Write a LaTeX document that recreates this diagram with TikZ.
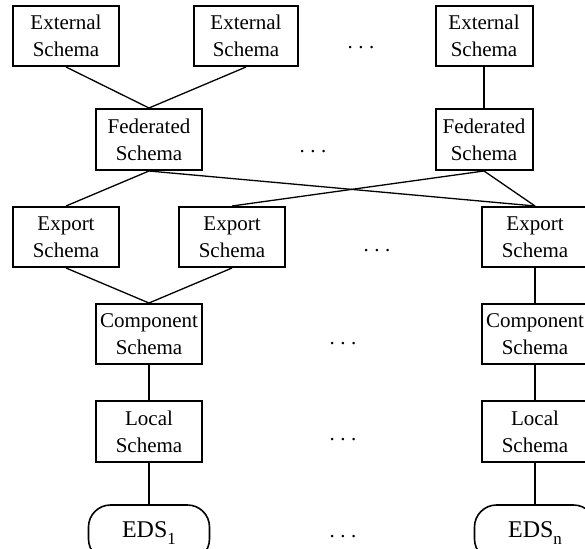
\documentclass[tikz,border=0pt]{standalone}
\usepackage{fontspec}
\setmainfont{Liberation Serif}
\newcommand{\lowsub}[1]{\raisebox{-0.28em}{\fontsize{17}{17}\selectfont #1}}
\begin{document}
\begin{tikzpicture}[x=1pt, y=-1pt,
  schemabox/.style={draw, line width=2pt, rectangle, inner sep=0pt,
    minimum width=106pt, minimum height=60pt, align=center,
    font=\fontsize{21}{27}\selectfont},
  sourcebox/.style={draw, line width=1.6pt, rectangle, rounded corners=22pt,
    inner sep=0pt, minimum width=121pt, minimum height=56pt,
    font=\fontsize{24}{28}\selectfont},
  dotsnode/.style={inner sep=0pt, anchor=base, font=\fontsize{21}{27}\selectfont},
  slant/.style={line width=1.3pt},
  upright/.style={line width=2pt}]
\useasboundingbox (0,0) rectangle (585,548);
\clip (0,0) rectangle (585,548);

% external schemas
\node[schemabox] (ext1) at (66,36) {External\\Schema};
\node[schemabox, minimum width=104pt] (ext2) at (246,36) {External\\Schema};
\node[schemabox, minimum width=97pt] (ext3) at (484,36) {External\\Schema};
\node[dotsnode] (dots1) at (361,49) {.\kern5.5pt.\kern5.5pt.};

% federated schemas
\node[schemabox, minimum height=61pt] (fed1) at (149,139.5) {Federated\\Schema};
\node[schemabox, minimum width=97pt, minimum height=61pt] (fed2) at (484,139.5) {Federated\\Schema};
\node[dotsnode] (dots2) at (313,153) {.\kern5.5pt.\kern5.5pt.};

% export schemas
\node[schemabox] (exp1) at (66,237) {Export\\Schema};
\node[schemabox] (exp2) at (232,237) {Export\\Schema};
\node[schemabox] (exp3) at (535,237) {Export\\Schema};
\node[dotsnode] (dots3) at (377,251) {.\kern5.5pt.\kern5.5pt.};

% component schemas
\node[schemabox] (comp1) at (149,334) {Component\\Schema};
\node[schemabox] (comp2) at (535,334) {Component\\Schema};
\node[dotsnode] (dots4) at (343,344) {.\kern5.5pt.\kern5.5pt.};

% local schemas
\node[schemabox, minimum height=61pt] (loc1) at (149,431.5) {Local\\Schema};
\node[schemabox, minimum height=61pt] (loc2) at (535,431.5) {Local\\Schema};
\node[dotsnode] (dots5) at (343,440) {.\kern5.5pt.\kern5.5pt.};

% data sources
\node[sourcebox] (eds1) at (149,533) {EDS\lowsub{1}};
\node[sourcebox] (edsn) at (535,533) {EDS\lowsub{n}};
\node[dotsnode] (dots6) at (343,537) {.\kern5.5pt.\kern5.5pt.};

% connectors
\draw[slant] (ext1.south) -- (fed1.north);
\draw[slant] (ext2.south) -- (fed1.north);
\draw[upright] (ext3.south) -- (fed2.north);
\draw[slant] (fed1.south) -- (exp1.north);
\draw[slant] (fed1.south) -- (exp3.north);
\draw[slant] (fed2.south) -- (exp2.north);
\draw[slant] (fed2.south) -- (exp3.north);
\draw[slant] (exp1.south) -- (comp1.north);
\draw[slant] (exp2.south) -- (comp1.north);
\draw[upright] (exp3.south) -- (comp2.north);
\draw[upright] (comp1.south) -- (loc1.north);
\draw[upright] (comp2.south) -- (loc2.north);
\draw[upright] (loc1.south) -- (eds1.north);
\draw[upright] (loc2.south) -- (edsn.north);
\end{tikzpicture}
\end{document}
